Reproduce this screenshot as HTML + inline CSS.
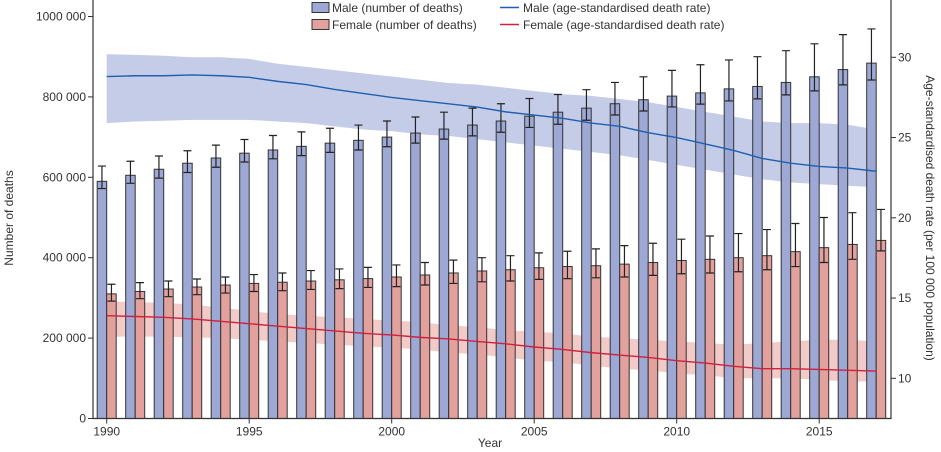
<!DOCTYPE html>
<html><head><meta charset="utf-8"><style>
body{margin:0;background:#fff;}
svg{display:block;font-family:"Liberation Sans",sans-serif;}
</style></head><body>
<svg id="chart" width="941" height="452" viewBox="0 0 941 452" xmlns="http://www.w3.org/2000/svg"></svg>
<script>
const years=[1990,1991,1992,1993,1994,1995,1996,1997,1998,1999,2000,2001,2002,2003,2004,2005,2006,2007,2008,2009,2010,2011,2012,2013,2014,2015,2016,2017];
const maleDeaths=[590000,605000,620000,635000,648000,660000,668000,677000,685000,692000,700000,710000,720000,730000,740000,752000,762000,772000,783000,793000,802000,810000,820000,826000,836000,850000,868000,884000];
const maleDeathsUpper=[628000,640000,653000,666000,680000,694000,704000,713000,722000,730000,740000,750000,762000,772000,783000,796000,806000,818000,836000,850000,866000,880000,892000,900000,915000,932000,955000,969000];
const maleDeathsLower=[572000,585000,598000,612000,625000,638000,646000,654000,662000,668000,676000,685000,695000,703000,712000,724000,732000,742000,755000,765000,775000,782000,790000,795000,805000,815000,830000,842000];
const femaleDeaths=[310000,316000,322000,327000,332000,336000,339000,342000,345000,348000,352000,357000,362000,367000,370000,375000,378000,380000,384000,388000,393000,396000,400000,405000,415000,425000,433000,443000];
const femaleDeathsUpper=[334000,338000,342000,347000,352000,358000,362000,368000,372000,376000,382000,388000,394000,400000,405000,412000,416000,422000,430000,436000,446000,454000,460000,470000,485000,500000,512000,520000];
const femaleDeathsLower=[292000,298000,303000,308000,312000,316000,318000,321000,323000,326000,328000,332000,336000,340000,342000,346000,348000,350000,352000,356000,360000,362000,365000,370000,378000,388000,396000,417000];
const maleRate=[28.8,28.85,28.85,28.9,28.85,28.75,28.5,28.3,28.0,27.75,27.5,27.3,27.1,26.9,26.6,26.4,26.2,25.9,25.7,25.3,25.0,24.6,24.2,23.7,23.4,23.2,23.1,22.9];
const maleRateUpper=[30.2,30.15,30.1,30.0,30.0,29.9,29.6,29.4,29.2,29.0,28.8,28.6,28.4,28.3,28.1,27.9,27.7,27.6,27.4,27.2,26.9,26.6,26.3,26.0,25.9,25.9,25.8,25.5];
const maleRateLower=[25.9,26.0,26.05,26.1,26.1,26.1,26.0,25.9,25.7,25.5,25.4,25.2,25.1,24.9,24.7,24.5,24.3,24.1,23.9,23.6,23.3,23.0,22.7,22.4,22.2,22.1,22.0,21.9];
const femaleRate=[13.9,13.85,13.8,13.7,13.55,13.4,13.25,13.1,12.95,12.8,12.7,12.55,12.45,12.3,12.15,11.95,11.8,11.6,11.45,11.3,11.1,10.95,10.75,10.6,10.6,10.55,10.5,10.45];
const femaleRateUpper=[14.8,14.75,14.7,14.6,14.4,14.2,14.0,13.9,13.8,13.7,13.6,13.5,13.3,13.2,13.0,12.9,12.8,12.6,12.5,12.4,12.3,12.2,12.1,12.2,12.3,12.4,12.4,12.3];
const femaleRateLower=[12.6,12.6,12.6,12.55,12.5,12.4,12.3,12.2,12.1,12.0,11.9,11.8,11.6,11.5,11.3,11.1,11.0,10.8,10.6,10.5,10.3,10.2,10.0,10.0,10.0,9.9,9.8,9.8];
const leftTicks=[0,200000,400000,600000,800000,1000000];
const leftTickLabels=["0","200 000","400 000","600 000","800 000","1000 000"];
const rightTicks=[10,15,20,25,30];
const xTicks=[1990,1995,2000,2005,2010,2015];

const svg=document.getElementById('chart');
const NS='http://www.w3.org/2000/svg';
const X0=93,X1=891,Y0=418.5;
const x=yr=>106.7+(yr-1990)*28.5;
const yL=v=>Y0-v*0.000402;
const yR=v=>378.3-(v-10)*16.05;
function mk(tag,attrs,parent){const e=document.createElementNS(NS,tag);for(const k in attrs)e.setAttribute(k,attrs[k]);(parent||svg).appendChild(e);return e;}
const txtCol='#333';

// bands
function band(up,lo,fill,name){
  let d='M'+years.map((yr,i)=>x(yr)+','+yR(up[i])).join('L')+'L'+years.map((yr,i)=>x(yr)+','+yR(lo[i])).reverse().join('L')+'Z';
  const p=mk('path',{d:d,fill:fill});
  
  
}
band(maleRateUpper,maleRateLower,'#c5cce8','male-rate-uncertainty-band');
band(femaleRateUpper,femaleRateLower,'#f2cbc8','female-rate-uncertainty-band');

// bars
const bw=9.5;
years.forEach((yr,i)=>{
  const cx=x(yr);
  const mb=mk('rect',{x:cx-bw,y:yL(maleDeaths[i]),width:bw,height:Y0-yL(maleDeaths[i]),fill:'#9ea8d4',stroke:'#333','stroke-width':1});
  
  
  const fb=mk('rect',{x:cx,y:yL(femaleDeaths[i]),width:bw,height:Y0-yL(femaleDeaths[i]),fill:'#e3a19d',stroke:'#333','stroke-width':1});
  
  
  [[cx-bw/2,maleDeathsUpper[i],maleDeathsLower[i],'male'],[cx+bw/2,femaleDeathsUpper[i],femaleDeathsLower[i],'female']].forEach(([ex,u,l,s])=>{
    const g=mk('path',{d:`M${ex},${yL(u)}V${yL(l)}M${ex-4},${yL(u)}H${ex+4}M${ex-4},${yL(l)}H${ex+4}`,stroke:'#222','stroke-width':1.2,fill:'none'});
    
    
  });
});

// lines
function line(vals,col,name){
  const p=mk('polyline',{points:years.map((yr,i)=>x(yr)+','+yR(vals[i])).join(' '),fill:'none',stroke:col,'stroke-width':1.4});
  
  
}
line(maleRate,'#1f5fb0','male-rate-line');
line(femaleRate,'#d0203f','female-rate-line');

// axes
const ax=mk('path',{d:`M${X0},0V${Y0}H${X1}V0`,stroke:'#333','stroke-width':1.2,fill:'none'});


leftTicks.forEach((v,i)=>{
  mk('line',{x1:X0-5,x2:X0,y1:yL(v),y2:yL(v),stroke:'#333'});
  const t=mk('text',{x:X0-7,y:yL(v)+4,'text-anchor':'end','font-size':12,fill:txtCol});
  t.textContent=leftTickLabels[i];
  
  
});
rightTicks.forEach(v=>{
  mk('line',{x1:X1,x2:X1+5,y1:yR(v),y2:yR(v),stroke:'#333'});
  const t=mk('text',{x:X1+7,y:yR(v)+4,'font-size':12,fill:txtCol});
  t.textContent=v;
  
  
});
xTicks.forEach(v=>{
  mk('line',{x1:x(v),x2:x(v),y1:Y0,y2:Y0+5,stroke:'#333'});
  const t=mk('text',{x:x(v),y:Y0+17,'text-anchor':'middle','font-size':12,fill:txtCol});
  t.textContent=v;
  
  
});
</script>
<svg style="position:absolute;left:0;top:0" width="941" height="452">
<text x="490" y="447" text-anchor="middle" font-size="12" fill="#333" font-family="Liberation Sans,sans-serif">Year</text>
<text transform="translate(13,218) rotate(-90)" text-anchor="middle" font-size="12" fill="#333" font-family="Liberation Sans,sans-serif">Number of deaths</text>
<text transform="translate(926,218) rotate(90)" text-anchor="middle" font-size="12" fill="#333" font-family="Liberation Sans,sans-serif">Age-standardised death rate (per 100 000 population)</text>
<g font-size="12" fill="#333" font-family="Liberation Sans,sans-serif">
<rect x="312" y="2.5" width="17" height="10" fill="#9ea8d4" stroke="#333"/>
<text x="332" y="12">Male (number of deaths)</text>
<rect x="312" y="19.5" width="17" height="10" fill="#e3a19d" stroke="#333"/>
<text x="332" y="29">Female (number of deaths)</text>
<line x1="500" x2="519" y1="7.5" y2="7.5" stroke="#1f5fb0" stroke-width="1.4"/>
<text x="523" y="12">Male (age-standardised death rate)</text>
<line x1="500" x2="519" y1="24.5" y2="24.5" stroke="#d0203f" stroke-width="1.4"/>
<text x="523" y="29">Female (age-standardised death rate)</text>
</g>
</svg>
</body></html>
